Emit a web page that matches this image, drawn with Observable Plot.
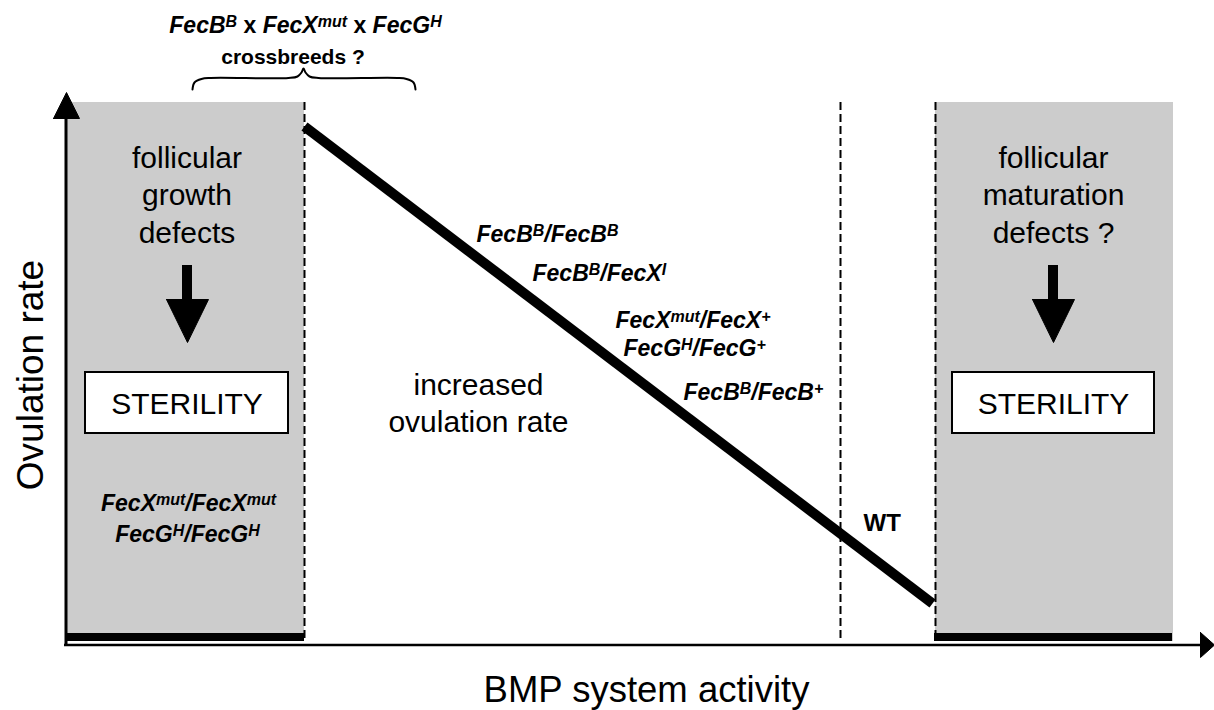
<!DOCTYPE html>
<html>
<head>
<meta charset="utf-8">
<script src="https://cdn.jsdelivr.net/npm/d3@7"></script>
<script src="https://cdn.jsdelivr.net/npm/@observablehq/plot@0.6"></script>
<style>
  html, body { margin: 0; padding: 0; background: #fff; }
  #chart svg { display: block; }
</style>
</head>
<body>
<div id="chart"></div>
<script>
// Schematic coordinate space: x = BMP system activity (left→right), y = position down the figure.
const W = 1214, H = 710;

// Shaded sterility zones (x range along BMP activity, y range of the panel)
const sterileZones = [
  {x1: 66, x2: 304, y1: 102, y2: 641},
  {x1: 935, x2: 1173, y1: 102, y2: 641}
];
// Thick bars at the base of the sterile zones (ovulation rate = 0)
const zeroBars = [
  {x1: 66, x2: 304, y1: 633, y2: 641},
  {x1: 934, x2: 1172, y1: 633, y2: 641}
];
// Dashed dividers
const dividers = [304, 840, 935];
const dividerSpan = {y1: 102, y2: 641};

// Ovulation rate vs BMP activity (linear decline)
const trend = [
  {x: 304, y: 126},
  {x: 932, y: 603}
];

// Axes
const yAxisLine = {x: 65.5, y1: 112, y2: 646};
const xAxisLine = {y: 644.5, x1: 64, x2: 1203};
const arrowHeads = [
  {id: "yaxis", pts: [[53, 118], [79, 118], [66, 92]]},
  {id: "xaxis", pts: [[1200, 632], [1200, 657], [1214, 644.5]]},
  {id: "leftDown", pts: [[166, 299], [208, 299], [187, 342]]},
  {id: "rightDown", pts: [[1032, 299], [1074, 299], [1053, 342]]}
];
const arrowShafts = [
  {x1: 182, x2: 192, y1: 265, y2: 300},
  {x1: 1048, x2: 1058, y1: 265, y2: 300}
];

// STERILITY boxes
const sterilityBoxes = [
  {x1: 85, x2: 288, y1: 372, y2: 433, cx: 186.5, label: "STERILITY"},
  {x1: 952, x2: 1154, y1: 372, y2: 433, cx: 1053, label: "STERILITY"}
];

// Defect captions
const defectLabels = [
  {x: 186.5, y: 242, text: "follicular\ngrowth\ndefects"},
  {x: 1053, y: 242, text: "follicular\nmaturation\ndefects ?"}
];
const middleLabel = [{x: 478, y: 431, text: "increased\novulation rate"}];

// Genotypes along the line ({..} = superscript)
const genotypesLine = [
  {x: 476, y: 241, text: "FecB{B}/FecB{B}"},
  {x: 532, y: 280, text: "FecB{B}/FecX{I}"},
  {x: 615, y: 327, text: "FecX{mut}/FecX{+}"},
  {x: 623, y: 355, text: "FecG{H}/FecG{+}"},
  {x: 683, y: 399, text: "FecB{B}/FecB{+}"}
];
const genotypesSterile = [
  {x: 188, y: 510, text: "FecX{mut}/FecX{mut}"},
  {x: 187, y: 541, text: "FecG{H}/FecG{H}"}
];
const wtLabel = [{x: 863, y: 530, text: "WT"}];

// Crossbreed question + brace
const crossTitle = [{x: 305, y: 32, text: "FecB{B}[ x ]FecX{mut}[ x ]FecG{H}"}];
const crossSub = [{x: 292.5, y: 63, text: "crossbreeds ?"}];
const brace = [
  [192, 89], [194, 82], [201, 78.5], [210, 77.5], [288, 77.5], [297, 76], [301, 72], [303, 68],
  [305, 72], [309, 76], [318, 77.5], [397, 77.5], [406, 78.5], [413, 82], [415, 89]
];

// Axis titles
const yTitle = [{x: 42, y: 374.5, text: "Ovulation rate"}];
const xTitle = [{x: 646, y: 701, text: "BMP system activity"}];

const triPts = arrowHeads.flatMap(a => [...a.pts, a.pts[0]].map(([x, y]) => ({id: a.id, x, y})));
const bracePts = brace.map(([x, y]) => ({x, y}));

const FONT = "'Liberation Sans', Arial, Helvetica, sans-serif";

const svg = Plot.plot({
  width: W,
  height: H,
  margin: 0,
  x: {domain: [0, W], range: [0, W], axis: null},
  y: {domain: [0, H], range: [0, H], axis: null},
  style: {fontFamily: FONT, color: "#000", background: "#fff"},
  marks: [
    Plot.rect(sterileZones, {x1: "x1", x2: "x2", y1: "y1", y2: "y2", fill: "#cccccc"}),
    Plot.ruleX(dividers, {x: d => d, y1: dividerSpan.y1, y2: dividerSpan.y2, stroke: "#000", strokeWidth: 2, strokeDasharray: "8,4"}),
    Plot.rect(zeroBars, {x1: "x1", x2: "x2", y1: "y1", y2: "y2", fill: "#000"}),
    Plot.ruleX([yAxisLine], {x: "x", y1: "y1", y2: "y2", stroke: "#000", strokeWidth: 3}),
    Plot.ruleY([xAxisLine], {y: "y", x1: "x1", x2: "x2", stroke: "#000", strokeWidth: 2.5}),
    Plot.line(triPts, {x: "x", y: "y", z: "id", fill: "#000", stroke: "#000", strokeWidth: 1, strokeLinejoin: "miter"}),
    Plot.rect(arrowShafts, {x1: "x1", x2: "x2", y1: "y1", y2: "y2", fill: "#000"}),
    Plot.line(trend, {x: "x", y: "y", stroke: "#000", strokeWidth: 10, strokeLinecap: "butt"}),
    Plot.line(bracePts, {x: "x", y: "y", stroke: "#000", strokeWidth: 2, curve: "catmull-rom"}),
    Plot.rect(sterilityBoxes, {x1: "x1", x2: "x2", y1: "y1", y2: "y2", fill: "#fff", stroke: "#000", strokeWidth: 2}),
    Plot.text(sterilityBoxes, {x: "cx", y: 413, text: "label", fontSize: 30, lineAnchor: "bottom", textAnchor: "middle", fill: "#000"}),
    Plot.text(defectLabels, {x: "x", y: "y", text: "text", fontSize: 30, lineHeight: 1.25, lineAnchor: "bottom", textAnchor: "middle", fill: "#000"}),
    Plot.text(middleLabel, {x: "x", y: "y", text: "text", fontSize: 30, lineHeight: 1.23, lineAnchor: "bottom", textAnchor: "middle", fill: "#000"}),
    Plot.text(genotypesLine, {x: "x", y: "y", text: "text", fontSize: 23, fontWeight: "bold", fontStyle: "italic", lineAnchor: "bottom", textAnchor: "start", fill: "#000"}),
    Plot.text(genotypesSterile, {x: "x", y: "y", text: "text", fontSize: 23, fontWeight: "bold", fontStyle: "italic", lineAnchor: "bottom", textAnchor: "middle", fill: "#000"}),
    Plot.text(wtLabel, {x: "x", y: "y", text: "text", fontSize: 24, fontWeight: "bold", lineAnchor: "bottom", textAnchor: "start", fill: "#000"}),
    Plot.text(crossTitle, {x: "x", y: "y", text: "text", fontSize: 23, fontWeight: "bold", fontStyle: "italic", lineAnchor: "bottom", textAnchor: "middle", fill: "#000"}),
    Plot.text(crossSub, {x: "x", y: "y", text: "text", fontSize: 21, fontWeight: "bold", lineAnchor: "bottom", textAnchor: "middle", fill: "#000"}),
    Plot.text(yTitle, {x: "x", y: "y", text: "text", fontSize: 37, rotate: -90, lineAnchor: "bottom", textAnchor: "middle", fill: "#000"}),
    Plot.text(xTitle, {x: "x", y: "y", text: "text", fontSize: 36.5, lineAnchor: "bottom", textAnchor: "middle", fill: "#000"})
  ]
});

// Superscripts {..} and upright segments [..] inside text labels
const SVGNS = "http://www.w3.org/2000/svg";
d3.select(svg).selectAll("text").each(function() {
  const s = this.textContent;
  if (!/[{\[]/.test(s)) return;
  const parts = s.split(/(\{[^}]*\}|\[[^\]]*\])/).filter(p => p);
  this.textContent = "";
  let raised = false;
  for (const p of parts) {
    const t = document.createElementNS(SVGNS, "tspan");
    if (p[0] === "{") {
      t.textContent = p.slice(1, -1);
      t.setAttribute("font-size", 16);
      t.setAttribute("dy", raised ? 0 : -6);
      raised = true;
    } else {
      if (p[0] === "[") {
        t.textContent = p.slice(1, -1);
        t.setAttribute("font-style", "normal");
      } else {
        t.textContent = p;
      }
      if (raised) { t.setAttribute("dy", 6); raised = false; }
    }
    this.appendChild(t);
  }
});

document.getElementById("chart").appendChild(svg);
</script>
</body>
</html>
